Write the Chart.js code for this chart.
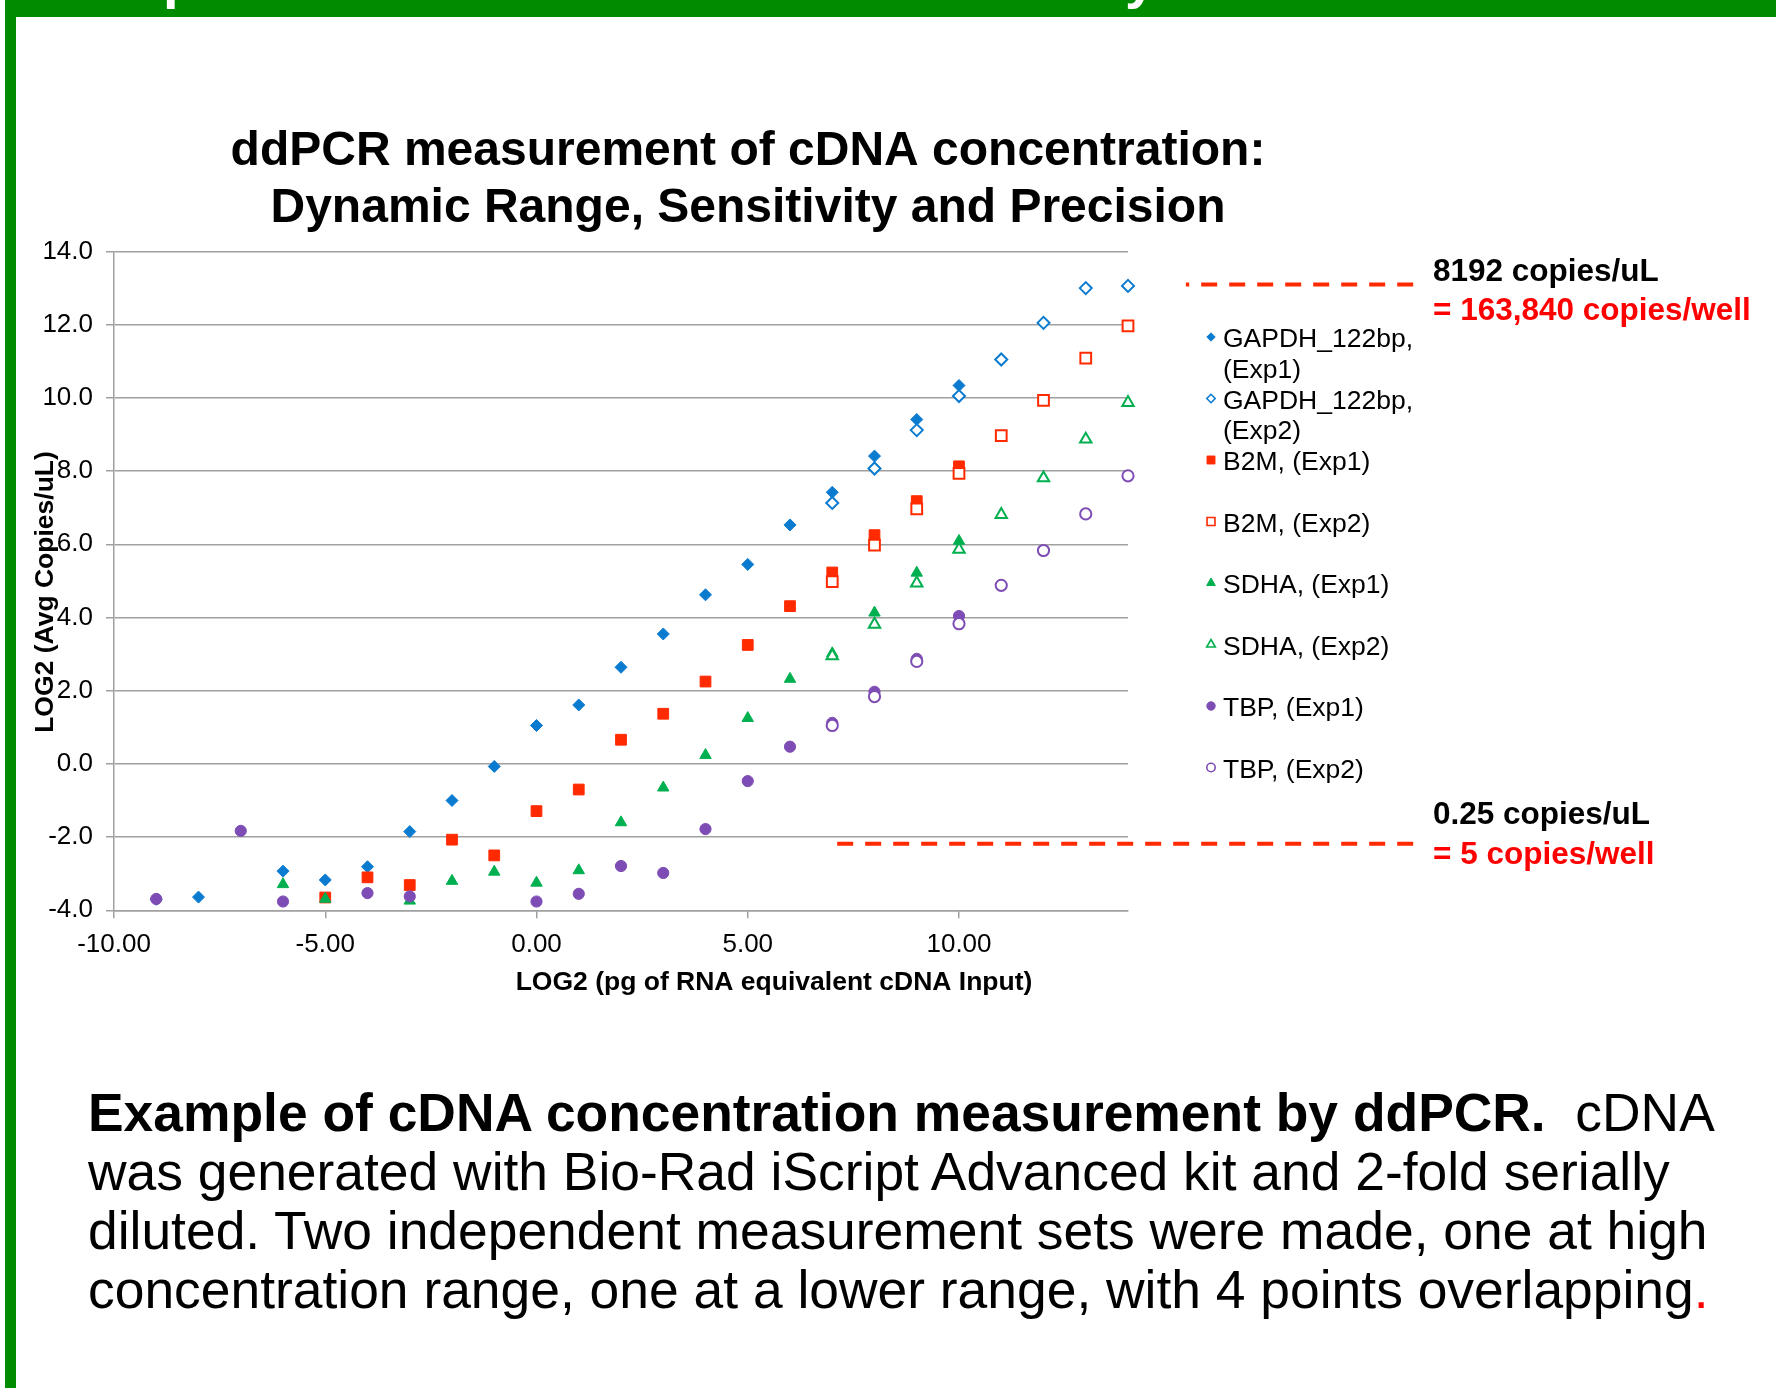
<!DOCTYPE html>
<html>
<head>
<meta charset="utf-8">
<script src="https://cdn.jsdelivr.net/npm/chart.js@4/dist/chart.umd.min.js"></script>
<style>
html,body{margin:0;padding:0;background:#fff;}
body{width:1776px;height:1388px;position:relative;overflow:hidden;font-family:"Liberation Sans",Arial,sans-serif;}
#topbar{position:absolute;left:5px;top:0;width:1771px;height:17px;background:#008c00;overflow:hidden;}
#topbar span{position:absolute;top:-50px;color:#fff;font-weight:bold;font-size:56px;line-height:56px;}
#leftbar{position:absolute;left:5px;top:0;width:11px;height:1388px;background:#008c00;}
#chartWrap{position:absolute;left:0;top:0;width:1776px;height:1010px;}
#caption{position:absolute;left:88px;top:1083px;font-size:53.4px;line-height:59px;white-space:nowrap;color:#000;}
</style>
</head>
<body>
<div id="topbar"><span style="left:158px">p</span><span style="left:1120px">y</span></div>
<div id="leftbar"></div>
<div id="chartWrap"><canvas id="c" width="1776" height="1010"></canvas></div>
<div id="caption"><b>Example of cDNA concentration measurement by ddPCR.</b>&nbsp; cDNA<br>was generated with Bio-Rad iScript Advanced kit and 2-fold serially<br>diluted. Two independent measurement sets were made, one at high<br>concentration range, one at a lower range, with 4 points overlapping<span style="color:#ff0000">.</span></div>
<script>
// ---------- data ----------
const gapdhExp1X = [-9,-8,-6,-5,-4,-3,-2,-1,0,1,2,3,4,5,6,7,8,9,10];
const gapdhExp1Y = [-3.70,-3.64,-2.93,-3.17,-2.81,-1.85,-1.00,-0.07,1.05,1.61,2.64,3.55,4.62,5.45,6.53,7.42,8.41,9.41,10.34];
const gapdhExp2X = [7,8,9,10,11,12,13,14];
const gapdhExp2Y = [7.13,8.07,9.12,10.05,11.05,12.05,13.00,13.06];
const b2mExp1X = [-5,-4,-3,-2,-1,0,1,2,3,4,5,6,7,8,9,10];
const b2mExp1Y = [-3.65,-3.10,-3.31,-2.07,-2.50,-1.29,-0.70,0.66,1.37,2.25,3.25,4.31,5.23,6.25,7.18,8.13];
const b2mExp2X = [7,8,9,10,11,12,13,14];
const b2mExp2Y = [4.98,5.98,6.97,7.94,8.97,9.93,11.09,11.97];
const sdhaExp1X = [-6,-5,-3,-2,-1,0,1,2,3,4,5,6,7,8,9,10];
const sdhaExp1Y = [-3.29,-3.69,-3.74,-3.20,-2.95,-3.25,-2.91,-1.60,-0.65,0.24,1.25,2.32,3.02,4.13,5.22,6.09];
const sdhaExp2X = [7,8,9,10,11,12,13,14];
const sdhaExp2Y = [2.95,3.81,4.94,5.86,6.81,7.81,8.87,9.87];
const tbpExp1X = [-9,-7,-6,-4,-3,0,1,2,3,4,5,6,7,8,9,10];
const tbpExp1Y = [-3.69,-1.83,-3.76,-3.53,-3.62,-3.76,-3.55,-2.79,-2.98,-1.78,-0.47,0.47,1.12,1.97,2.87,4.04];
const tbpExp2X = [7,8,9,10,11,12,13,14];
const tbpExp2Y = [1.05,1.84,2.80,3.83,4.88,5.83,6.83,7.87];

const seriesNames = [
  ["GAPDH_122bp,","(Exp1)"], ["GAPDH_122bp,","(Exp2)"],
  ["B2M, (Exp1)"], ["B2M, (Exp2)"],
  ["SDHA, (Exp1)"], ["SDHA, (Exp2)"],
  ["TBP, (Exp1)"], ["TBP, (Exp2)"]
];
const titleLines = ["ddPCR measurement of cDNA concentration:", "Dynamic Range, Sensitivity and Precision"];
const xAxisTitle = "LOG2 (pg of RNA equivalent cDNA Input)";
const yAxisTitle = "LOG2 (Avg Copies/uL)";
const xRange = [-10, 14];
const yRange = [-4, 14];
const xStep = 5;
const yStep = 2;
// detection limit annotations (log2 copies/uL)
const upperLimitY = 13.1;
const lowerLimitY = -2.18;
const upperLimitText = ["8192 copies/uL", "= 163,840 copies/well"];
const lowerLimitText = ["0.25 copies/uL", "= 5 copies/well"];

// ---------- styles ----------
const FONT = '"Liberation Sans", Arial, sans-serif';
const BLUE = '#0b7bd0', RED = '#ff2a00', GREEN = '#00b050', PURPLE = '#7d4db5';
const GRID = '#a0a0a0';

function pts(xs, ys){ return xs.map((v,i)=>({x:v, y:ys[i]})); }

const styleDefs = [
  {c: BLUE,   ps: 'rectRot',  r: 6,   open: false, lr: 4.2},
  {c: BLUE,   ps: 'rectRot',  r: 6,   open: true,  lr: 4.2},
  {c: RED,    ps: 'rect',     r: 7.6, open: false, lr: 5.6},
  {c: RED,    ps: 'rect',     r: 7.6, open: true,  lr: 5.6},
  {c: GREEN,  ps: 'triangle', r: 6.6, open: false, lr: 5},
  {c: GREEN,  ps: 'triangle', r: 6.6, open: true,  lr: 5},
  {c: PURPLE, ps: 'circle',   r: 5.6, open: false, lr: 4.2},
  {c: PURPLE, ps: 'circle',   r: 5.6, open: true,  lr: 4.2}
];
const seriesData = [
  pts(gapdhExp1X, gapdhExp1Y), pts(gapdhExp2X, gapdhExp2Y),
  pts(b2mExp1X, b2mExp1Y), pts(b2mExp2X, b2mExp2Y),
  pts(sdhaExp1X, sdhaExp1Y), pts(sdhaExp2X, sdhaExp2Y),
  pts(tbpExp1X, tbpExp1Y), pts(tbpExp2X, tbpExp2Y)
];

const datasets = seriesData.map((d, i) => {
  const s = styleDefs[i];
  return {
    label: seriesNames[i].join(' '),
    data: d,
    showLine: false,
    pointStyle: s.ps,
    pointRadius: s.r,
    pointHoverRadius: s.r,
    backgroundColor: s.open ? '#ffffff' : s.c,
    borderColor: s.c,
    pointBorderWidth: s.open ? 2 : 1,
    clip: false,
    order: seriesData.length - i
  };
});

const decor = {
  id: 'decor',
  afterDatasetsDraw(chart) {
    const {ctx, scales: {x, y}} = chart;
    ctx.save();
    // dashed limit lines (drawn from right end to the left)
    ctx.strokeStyle = RED;
    ctx.lineWidth = 4;
    ctx.setLineDash([16, 12]);
    const endX = x.getPixelForValue(20.75);
    ctx.beginPath();
    ctx.moveTo(endX, y.getPixelForValue(upperLimitY));
    ctx.lineTo(x.getPixelForValue(15.37), y.getPixelForValue(upperLimitY));
    ctx.stroke();
    ctx.beginPath();
    ctx.moveTo(endX, y.getPixelForValue(lowerLimitY));
    ctx.lineTo(x.getPixelForValue(7.1), y.getPixelForValue(lowerLimitY));
    ctx.stroke();
    ctx.setLineDash([]);
    ctx.restore();
  },
  afterDraw(chart) {
    const {ctx, chartArea: ca} = chart;
    ctx.save();
    ctx.fillStyle = '#000';
    ctx.textBaseline = 'middle';
    // title
    ctx.textAlign = 'center';
    ctx.font = 'bold 48px ' + FONT;
    ctx.fillText(titleLines[0], 748, 152);
    ctx.fillText(titleLines[1], 748, 209);
    // axis titles
    ctx.font = 'bold 26.5px ' + FONT;
    ctx.fillText(xAxisTitle, 774, 983);
    ctx.save();
    ctx.translate(46, 592);
    ctx.rotate(-Math.PI / 2);
    ctx.fillText(yAxisTitle, 0, 0);
    ctx.restore();
    // legend
    const lx = ca.right + 83;
    const ly0 = ca.top + 88.5;
    const slot = 61.5, lineH = 30.6;
    ctx.textAlign = 'left';
    ctx.font = '26.5px ' + FONT;
    seriesNames.forEach((lines, i) => {
      const s = styleDefs[i];
      const cy = ly0 + slot * i;
      ctx.save();
      ctx.fillStyle = s.open ? '#ffffff' : s.c;
      ctx.strokeStyle = s.c;
      ctx.lineWidth = s.open ? 1.6 : 1;
      Chart.helpers.drawPoint(ctx, {pointStyle: s.ps, radius: s.lr, rotation: 0, borderWidth: ctx.lineWidth}, lx, cy - 3);
      ctx.restore();
      ctx.fillStyle = '#000';
      lines.forEach((t, k) => ctx.fillText(t, lx + 12, cy + lineH * k));
    });
    // limit annotations
    ctx.font = 'bold 31.5px ' + FONT;
    ctx.fillStyle = '#000';
    ctx.fillText(upperLimitText[0], 1433, 272);
    ctx.fillText(lowerLimitText[0], 1433, 815.5);
    ctx.fillStyle = '#ff0000';
    ctx.fillText(upperLimitText[1], 1433, 311.5);
    ctx.fillText(lowerLimitText[1], 1433, 855.5);
    ctx.restore();
  }
};

const tickFont = {family: FONT, size: 26};

new Chart(document.getElementById('c'), {
  type: 'scatter',
  data: {datasets},
  options: {
    responsive: false,
    animation: false,
    devicePixelRatio: 1,
    events: [],
    layout: {padding: {left: 0, right: 648, top: 251.5, bottom: 39.7}},
    plugins: {legend: {display: false}, title: {display: false}, tooltip: {enabled: false}},
    scales: {
      x: {
        type: 'linear', min: xRange[0], max: xRange[1],
        afterFit: s => { s.height = 60; },
        ticks: {stepSize: xStep, includeBounds: false, callback: v => v.toFixed(2), font: tickFont, color: '#000', padding: 11, maxRotation: 0, autoSkip: false},
        grid: {drawOnChartArea: false, drawTicks: true, tickLength: 8, color: GRID, lineWidth: 1.5},
        border: {display: true, color: GRID, width: 1.5}
      },
      y: {
        type: 'linear', min: yRange[0], max: yRange[1],
        afterFit: s => { s.width = 114; },
        ticks: {stepSize: yStep, callback: v => v.toFixed(1), font: tickFont, color: '#000', padding: 13},
        grid: {drawTicks: true, tickLength: 8, color: GRID, lineWidth: 1.5},
        border: {display: true, color: GRID, width: 1.5}
      }
    }
  },
  plugins: [decor]
});
</script>
</body>
</html>
